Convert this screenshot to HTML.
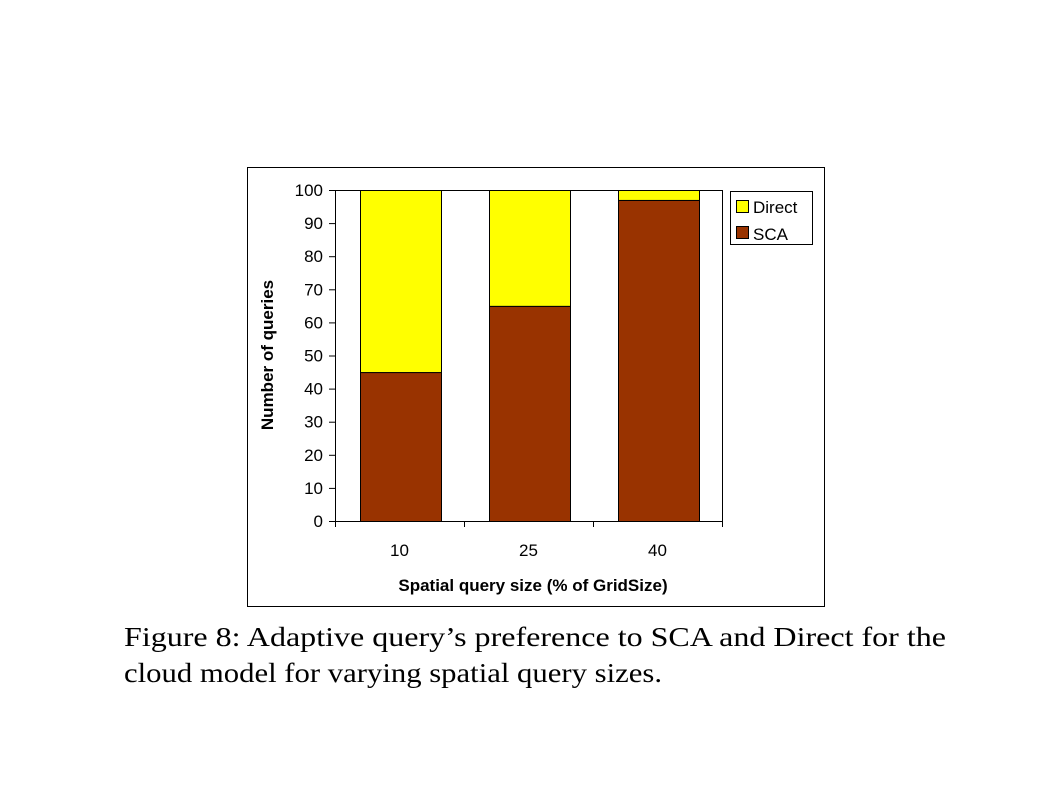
<!DOCTYPE html>
<html><head><meta charset="utf-8"><style>
html,body{margin:0;padding:0;background:#fff;}
svg{display:block;font-family:"Liberation Sans",Arial,sans-serif;}
</style></head><body>
<svg width="1058" height="793" viewBox="0 0 1058 793">
<rect x="247.5" y="167.5" width="577" height="439" fill="#fff" stroke="#000" stroke-width="1"/>
<g id="plot"></g>
<g>
<rect x="730.5" y="191.5" width="82" height="53" fill="#fff" stroke="#000"/>
<g>
<rect x="736.5" y="200.5" width="12" height="12" fill="#ffff00" stroke="#000"/>
<text x="753" y="213" font-size="17">Direct</text></g>
<g>
<rect x="736.5" y="226.5" width="12" height="12" fill="#993300" stroke="#000"/>
<text x="753" y="240" font-size="17">SCA</text></g>
</g>
<text transform="translate(273,355) rotate(-90)" text-anchor="middle" font-size="17" font-weight="bold">Number of queries</text>
<text x="533" y="591" text-anchor="middle" font-size="17" font-weight="bold">Spatial query size (% of GridSize)</text>
<g font-family="'Liberation Serif',serif" font-size="27">
<text x="124" y="646" textLength="822" lengthAdjust="spacingAndGlyphs">Figure 8:  Adaptive query’s preference to SCA and Direct for the</text>
<text x="124" y="682" textLength="538" lengthAdjust="spacingAndGlyphs">cloud model for varying spatial query sizes.</text>
</g>
<script>
const categories=["10","25","40"];
const scaValues=[45,65,97];
const directValues=[55,35,3];
const yTicks=[0,10,20,30,40,50,60,70,80,90,100];
const NS="http://www.w3.org/2000/svg";
const g=document.getElementById("plot");
const x0=335,x1=722,yB=521,yT=190;
const y=v=>yB-(v/100)*(yB-yT);
const band=(x1-x0)/categories.length;
function el(t,a){const e=document.createElementNS(NS,t);for(const k in a)e.setAttribute(k,a[k]);g.appendChild(e);return e;}
// plot border
const pb=el("rect",{x:x0+0.5,y:yT+0.5,width:x1-x0,height:yB-yT,fill:"none",stroke:"#000"});


categories.forEach((c,i)=>{
  const bx=x0+i*band+25, bw=81;
  const s=el("rect",{x:bx+0.5,y:y(scaValues[i])+0.5,width:bw,height:y(0)-y(scaValues[i]),fill:"#993300",stroke:"#000"});
  
  
  const d=el("rect",{x:bx+0.5,y:y(scaValues[i]+directValues[i])+0.5,width:bw,height:y(scaValues[i])-y(scaValues[i]+directValues[i]),fill:"#ffff00",stroke:"#000"});
  
  
  const t=el("text",{x:x0+(i+0.5)*band,y:556,"text-anchor":"middle","font-size":17});
  t.textContent=c;
  
  
});
for(let i=0;i<=categories.length;i++){
  const xx=x0+i*band;
  const tk=el("line",{x1:xx+0.5,x2:xx+0.5,y1:yB,y2:yB+6,stroke:"#000"});
  
  
}
yTicks.forEach(v=>{
  const tk=el("line",{x1:x0-6,x2:x0,y1:y(v)+0.5,y2:y(v)+0.5,stroke:"#000"});
  
  
  const t=el("text",{x:x0-12,y:y(v)+6,"text-anchor":"end","font-size":17});
  t.textContent=v;
  
  
});
</script>
</svg>
</body></html>
